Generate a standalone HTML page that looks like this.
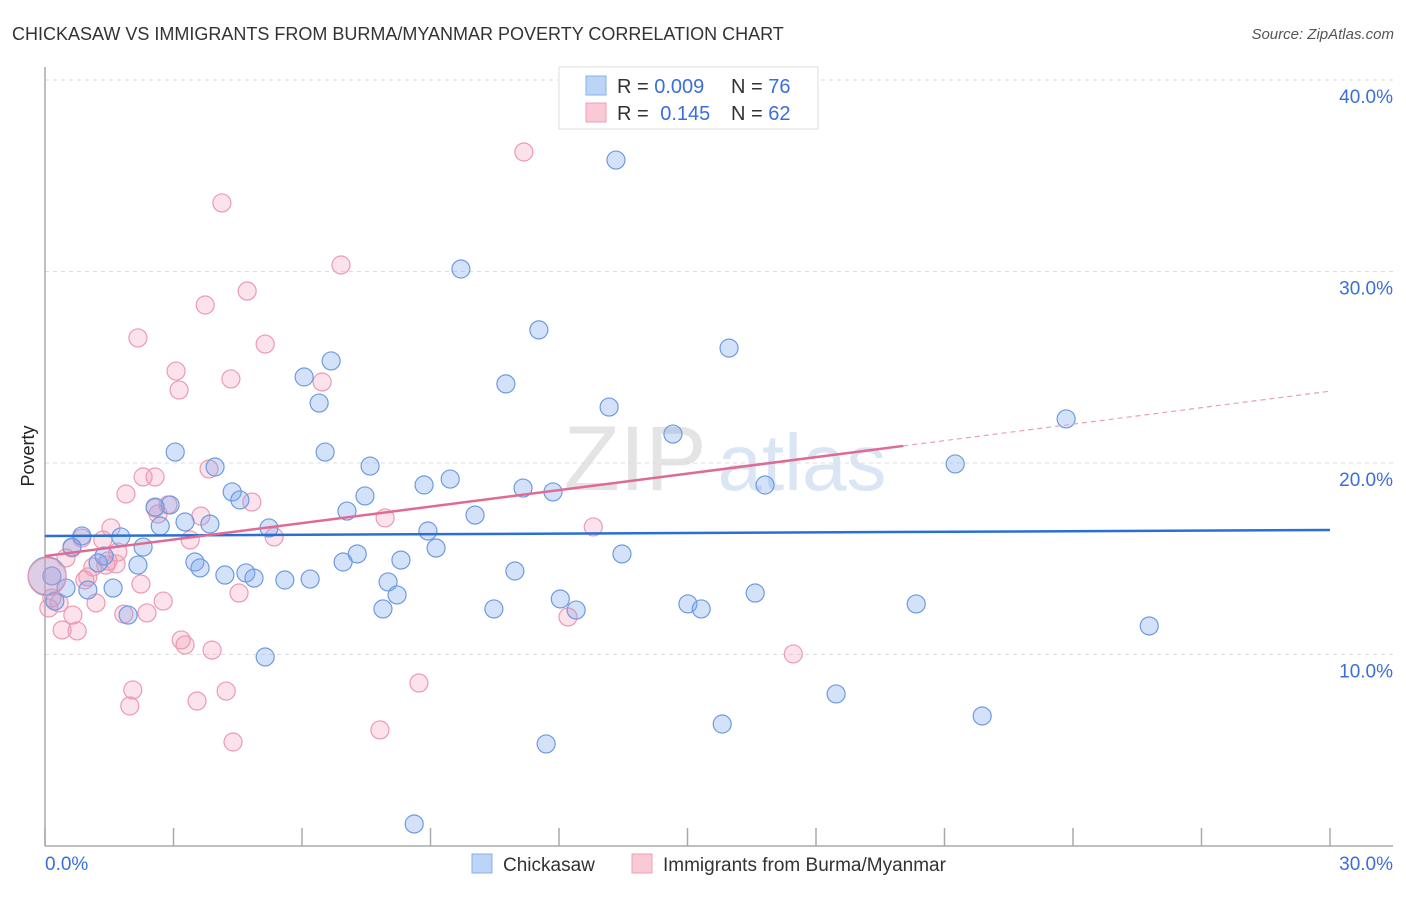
<!DOCTYPE html>
<html><head><meta charset="utf-8">
<style>
body{margin:0;background:#fff;font-family:"Liberation Sans",sans-serif;}
svg text{font-family:"Liberation Sans",sans-serif;}
</style></head>
<body>
<svg id="chart" width="1406" height="892" viewBox="0 0 1406 892" xmlns="http://www.w3.org/2000/svg">
<text x="12" y="40" font-size="18" fill="#333">CHICKASAW VS IMMIGRANTS FROM BURMA/MYANMAR POVERTY CORRELATION CHART</text>
<text x="1394" y="39" font-size="15" fill="#555" font-style="italic" text-anchor="end">Source: ZipAtlas.com</text>
<text x="34" y="456" font-size="18" fill="#222" transform="rotate(-90 34 456)" text-anchor="middle">Poverty</text>
<g>
<text x="635" y="490" font-size="92" fill="#e4e4e4" font-family="Liberation Serif" text-anchor="middle">ZIP</text>
<text x="802" y="490" font-size="80" fill="#dbe6f5" text-anchor="middle">atlas</text>
</g>
<g id="grid"></g>
<g id="axes"></g>
<g id="marks"></g>
<g id="trends"></g>
<g>
<rect x="559" y="67" width="259" height="62" fill="#fff" stroke="#ddd"/>
<rect x="586" y="76" width="20" height="19" fill="#bcd4f5" stroke="#8ab0e8"/>
<rect x="586" y="103" width="20" height="19" fill="#fac9d6" stroke="#ee9fb7"/>
<text x="617" y="93" font-size="20" fill="#333">R = <tspan fill="#3a6fd8">0.009</tspan></text>
<text x="731" y="93" font-size="20" fill="#333">N = <tspan fill="#3a6fd8">76</tspan></text>
<text x="617" y="120" font-size="20" fill="#333">R =  <tspan fill="#3a6fd8" dx="6">0.145</tspan></text>
<text x="731" y="120" font-size="20" fill="#333">N = <tspan fill="#3a6fd8">62</tspan></text>
</g>
<g>
<rect x="472" y="854" width="20" height="19" fill="#bcd4f5" stroke="#8ab0e8"/>
<text x="503" y="871" font-size="19" fill="#333">Chickasaw</text>
<rect x="632" y="854" width="20" height="19" fill="#fac9d6" stroke="#ee9fb7"/>
<text x="663" y="871" font-size="19" fill="#333">Immigrants from Burma/Myanmar</text>
</g>
</svg>
<script>
const blueX=[13.33,9.71,11.53,15.97,6.68,6.05,10.76,6.40,13.17,23.84,14.66,3.04,6.54,3.97,7.59,21.25,9.46,8.85,11.16,11.86,16.81,4.37,4.55,7.47,2.92,2.57,10.04,7.05,3.27,3.85,2.69,5.23,8.94,0.86,1.77,0.63,2.29,9.13,7.29,13.47,1.38,1.24,3.50,6.96,8.31,2.17,3.62,10.97,4.20,4.69,4.88,5.60,6.19,8.01,0.16,0.49,1.59,1.00,8.22,12.03,16.58,15.01,0.23,7.89,10.48,12.40,15.32,20.34,1.94,25.78,5.14,18.47,15.81,21.88,11.70,8.62];
const blueY=[35.82,30.13,26.95,26.0,25.33,24.49,24.13,23.13,22.92,22.30,21.51,20.57,20.57,19.79,19.84,19.95,19.16,18.85,18.69,18.49,18.85,18.49,18.07,18.28,17.81,17.70,17.28,17.49,16.92,16.81,16.71,16.61,16.45,16.19,16.14,15.61,15.61,15.56,15.25,15.25,15.14,14.78,14.83,14.83,14.93,14.67,14.52,14.36,14.15,14.26,13.99,13.89,13.94,13.79,14.10,13.47,13.47,13.37,13.11,12.90,13.21,12.64,12.79,12.38,12.38,12.32,12.38,12.64,12.06,11.49,9.87,7.94,6.37,6.79,5.33,1.15];
const pinkX=[11.18,4.13,6.91,4.72,3.74,2.17,5.14,3.06,4.34,3.13,6.47,3.83,2.29,2.57,1.89,4.83,2.57,2.87,2.64,7.94,3.64,1.54,12.80,5.35,1.35,3.39,0.86,0.63,0.49,1.70,1.66,1.12,1.42,1.00,0.93,2.24,4.53,0.16,0.09,0.33,2.76,1.19,0.65,2.38,1.84,12.21,0.40,0.75,3.18,3.27,3.90,17.47,8.73,2.05,4.23,3.55,1.98,7.82,4.39,1.47];
const pinkY=[36.24,33.58,30.34,28.98,28.25,26.53,26.21,24.80,24.39,23.81,24.23,19.69,19.27,19.27,18.38,17.96,17.65,17.81,17.34,17.13,17.23,16.61,16.66,16.14,15.98,15.98,16.08,15.56,15.04,15.35,14.73,14.57,14.67,14.05,13.89,13.68,13.21,12.95,12.43,12.69,12.79,12.69,12.06,12.17,12.11,11.96,11.28,11.23,10.76,10.50,10.23,10.03,8.51,8.15,8.09,7.57,7.31,6.06,5.43,14.88];
const bigPoints=[[0.05,14.10,'blue'],[0.05,14.05,'pink']];
const yTicks=[10,20,30,40];
const yTickLabels=['10.0%','20.0%','30.0%','40.0%'];
const xTicks=[0,3,6,9,12,15,18,21,24,27,30];
const blueTrend=[16.19,16.50];
const pinkTrend=[15.14,23.75];
const pinkSolidEnd=20.04;

const NS='http://www.w3.org/2000/svg';
const X0=45,X1=1330,Y0=846,PXPER=19.15;
const sx=v=>X0+(v/30)*(X1-X0);
const sy=v=>Y0-v*PXPER;
function mk(tag,attrs,parent){const e=document.createElementNS(NS,tag);for(const k in attrs)e.setAttribute(k,attrs[k]);parent.appendChild(e);return e;}
const grid=document.getElementById('grid'),axes=document.getElementById('axes'),marks=document.getElementById('marks'),trends=document.getElementById('trends');
yTicks.forEach((t,i)=>{
  const l=mk('line',{x1:X0,x2:1393,y1:sy(t),y2:sy(t),stroke:'#ddd','stroke-dasharray':'4,4'},grid);
  
  
  const tx=mk('text',{x:1393,y:sy(t)+23,'font-size':19,fill:'#3a6fd8','text-anchor':'end'},axes);
  tx.textContent=yTickLabels[i];
  
  
});
const ya=mk('line',{x1:X0,x2:X0,y1:67,y2:Y0,stroke:'#aaa','stroke-width':1.5},axes);


const xa=mk('line',{x1:X0,x2:1393,y1:Y0,y2:Y0,stroke:'#aaa','stroke-width':1.5},axes);


xTicks.forEach(t=>{
  const l=mk('line',{x1:sx(t),x2:sx(t),y1:828,y2:Y0,stroke:'#aaa','stroke-width':1.5},axes);
  
  
});
const xl0=mk('text',{x:45,y:870,'font-size':19,fill:'#3a6fd8'},axes);xl0.textContent='0.0%';


const xl1=mk('text',{x:1393,y:870,'font-size':19,fill:'#3a6fd8','text-anchor':'end'},axes);xl1.textContent='30.0%';


const styles={blue:{fill:'rgba(120,165,235,0.32)',stroke:'#6d9be0'},pink:{fill:'rgba(243,150,180,0.28)',stroke:'#ec9ab4'}};
function dot(x,y,s,r,name){
  const c=mk('circle',{cx:sx(x),cy:sy(y),r:r,fill:styles[s].fill,stroke:styles[s].stroke,'stroke-width':1.2},marks);
  
  
}
pinkX.forEach((x,i)=>dot(x,pinkY[i],'pink',9,'burma-point'));
blueX.forEach((x,i)=>dot(x,blueY[i],'blue',9,'chickasaw-point'));
bigPoints.forEach(p=>dot(p[0],p[1],p[2],19,p[2]==='blue'?'chickasaw-point-large':'burma-point-large'));
const bt=mk('line',{x1:sx(0),y1:sy(blueTrend[0]),x2:sx(30),y2:sy(blueTrend[1]),stroke:'#2a6fd6','stroke-width':2.5},trends);


const pAt=x=>pinkTrend[0]+(pinkTrend[1]-pinkTrend[0])*x/30;
const pt=mk('line',{x1:sx(0),y1:sy(pAt(0)),x2:sx(pinkSolidEnd),y2:sy(pAt(pinkSolidEnd)),stroke:'#e06a93','stroke-width':2.5},trends);


const pd=mk('line',{x1:sx(pinkSolidEnd),y1:sy(pAt(pinkSolidEnd)),x2:sx(30),y2:sy(pAt(30)),stroke:'#e8a0b8','stroke-width':1.2,'stroke-dasharray':'5,4'},trends);


</script>
</body></html>
